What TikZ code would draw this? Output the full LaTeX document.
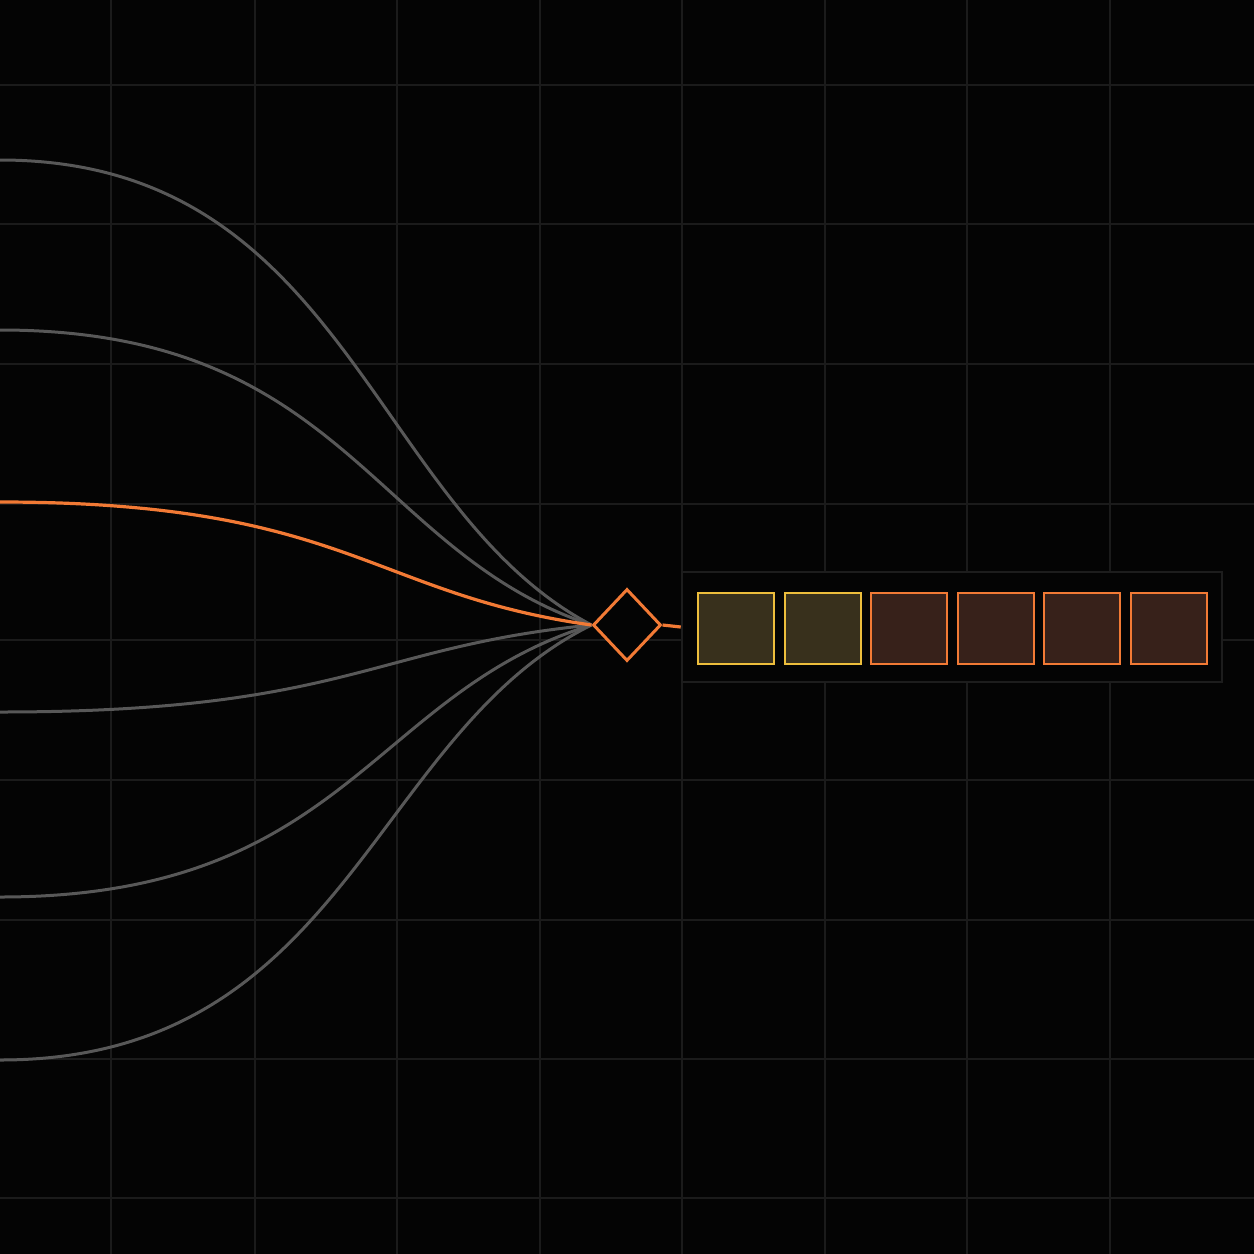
\documentclass[tikz,border=0pt]{standalone}
\usepackage{tikz, xcolor}
\usetikzlibrary{shapes.geometric, positioning, calc}

\definecolor{bgblack}{HTML}{040404}
\definecolor{gridgray}{HTML}{1B1B1B}
\definecolor{wiregray}{HTML}{585858}
\definecolor{hotorange}{HTML}{F27A35}
\definecolor{warmyellow}{HTML}{EDBE3C}
\definecolor{olivefill}{HTML}{38301C}
\definecolor{rustfill}{HTML}{37211A}
\definecolor{panelgray}{HTML}{1D1D1D}

\tikzset{
    gridline/.style={gridgray, line width=2.2pt},
    wire/.style={wiregray, line width=3pt},
    hotwire/.style={hotorange, line width=3.2pt},
    merge/.style={diamond, draw=hotorange, fill=bgblack, line width=3pt,
        minimum width=68pt, minimum height=72pt, inner sep=0pt},
    panelbox/.style={draw=panelgray, fill=bgblack, line width=2.5pt,
        minimum width=540pt, minimum height=110pt, inner sep=0pt},
    cell/.style={draw=warmyellow, fill=olivefill, line width=2pt,
        minimum width=76pt, minimum height=71pt, inner sep=0pt},
    warmcell/.style={cell, draw=hotorange, fill=rustfill}
}

\begin{document}
\begin{tikzpicture}[x=1pt, y=-1pt]
    \fill [bgblack] (0,0) rectangle (1254,1254);
    \useasboundingbox (0,0) rectangle (1254,1254);

    % background grid
    \foreach \gx in {111, 255, 397, 540, 682, 825, 967, 1110}
        \draw [gridline] (\gx,0) -- (\gx,1254);
    \foreach \gy in {85, 224, 364, 504, 640, 780, 920, 1059, 1198}
        \draw [gridline] (0,\gy) -- (1254,\gy);

    \node [merge] (merge) at (627,625) {};
    \node [panelbox] (panel) at (952,627) {};

    % six inputs, one of them active
    \foreach \n/\iy in {1/160, 2/330, 4/712, 5/897, 6/1060} {
        \coordinate (in\n) at (0,\iy);
        \draw [wire] (in\n) .. controls +(346,0) and +(-221,{-0.25*(625-\iy)}) .. (merge.west);
    }
    \coordinate (in3) at (0,502);
    \draw [hotwire] (in3) .. controls +(346,0) and +(-221,{-0.25*(625-502)}) .. (merge.west);
    \draw [hotwire] (merge.east) -- (panel.west);

    % output cells
    \node [cell] (c1) at (736,628.5) {};
    \node [cell, right=8.6pt of c1] (c2) {};
    \node [warmcell, right=8.6pt of c2] (c3) {};
    \node [warmcell, right=8.6pt of c3] (c4) {};
    \node [warmcell, right=8.6pt of c4] (c5) {};
    \node [warmcell, right=8.6pt of c5] (c6) {};
\end{tikzpicture}
\end{document}
